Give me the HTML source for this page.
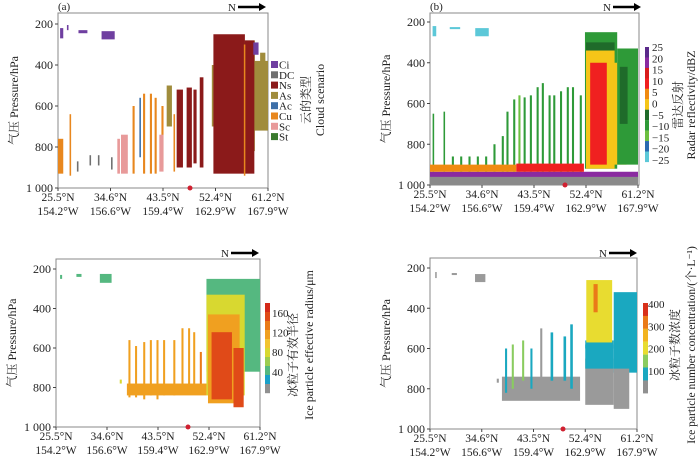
<!DOCTYPE html>
<html><head><meta charset="utf-8"><style>
body{margin:0;background:#fff;width:700px;height:458px;overflow:hidden}
svg{display:block}
text{font-family:"Liberation Serif","Noto Serif CJK SC",serif;fill:#222}
</style></head><body>
<svg id="fig" width="700" height="458"></svg>
<script>
// Tick labels
const latLabels=["25.5°N","34.6°N","43.5°N","52.4°N","61.2°N"];
const lonLabels=["154.2°W","156.6°W","159.4°W","162.9°W","167.9°W"];
const pTicks=[200,400,600,800,1000];
const pTickLabels=["200","400","600","800","1 000"];
// Panel a: cloud scenario columns [position(tick units), width, pTop, pBottom, class]
const colsA=[
[0.04,0.06,220,270,"Ci"],[0.17,0.03,205,230,"Ci"],[0.39,0.17,230,245,"Ci"],[0.83,0.25,235,275,"Ci"],
[0,0.1,760,930,"Cu"],[0.22,0.03,640,940,"Cu"],
[0.36,0.03,870,920,"DC"],[0.6,0.03,840,890,"DC"],[0.76,0.03,840,890,"DC"],[1.01,0.03,850,910,"DC"],
[1.13,0.05,760,930,"Sc"],[1.2,0.13,740,930,"Sc"],[1.55,0.03,560,850,"Ac"],
[1.42,0.04,600,930,"Cu"],[1.62,0.04,540,930,"Cu"],[1.75,0.04,540,930,"Cu"],[1.84,0.04,560,930,"Cu"],[1.97,0.04,600,900,"Cu"],[2.2,0.03,640,920,"Cu"],
[1.93,0.08,740,920,"Sc"],[2.07,0.1,500,700,"As"],
[2.26,0.12,520,900,"Ns"],[2.45,0.1,510,900,"Ns"],[2.58,0.06,520,880,"Ns"],[2.7,0.07,460,900,"Ns"],
[2.93,0.06,400,700,"As"],[3.5,0.25,280,820,"As"],[3.72,0.28,380,720,"As"],[3.85,0.1,340,560,"As"],
[2.96,0.6,250,930,"Ns"],[3.56,0.18,280,930,"Ns"],[3.54,0.02,300,940,"Cu"],[3.72,0.1,290,350,"Ci"]];
const classes=["Ci","DC","Ns","As","Ac","Cu","Sc","St"];
const classColors={Ci:"#6f3fa0",DC:"#707070",Ns:"#8b1a1a",As:"#a08c3c",Ac:"#3d6fa8",Cu:"#e8871e",Sc:"#e89a9a",St:"#3a7a2e"};
// Panel b reflectivity layers [pos,width,pTop,pBottom,dBZ]
const colsB=[
[0,4,955,1000,-99],[0,4,935,960,22],
[0.05,0.07,220,270,-25],[0.38,0.2,225,235,-25],[0.87,0.26,230,270,-23],
[0.05,0.03,650,935,-10],[0.26,0.03,640,935,-10],
[0.42,0.04,860,935,-10],[0.58,0.04,860,935,-10],[0.74,0.04,860,935,-10],[0.9,0.04,860,935,-10],[1.06,0.04,860,935,-10],
[1.22,0.04,800,935,-10],[1.38,0.04,760,935,-10],[1.47,0.04,640,935,-10],[1.6,0.04,580,935,-10],[1.7,0.04,560,935,-12],[1.8,0.04,570,935,-10],[1.92,0.04,560,935,-10],[2.05,0.04,520,935,-10],[2.15,0.04,500,935,-10],[2.28,0.04,560,935,-10],[2.37,0.04,560,935,-10],[2.5,0.04,540,935,-10],[2.63,0.04,520,935,-10],[2.73,0.04,520,935,-10],[2.88,0.04,560,935,-10],
[0,1.66,900,935,5],[1.66,1.3,895,935,12],
[2.98,0.62,250,920,-8],[3.0,0.55,300,360,-3],[3.0,0.55,340,920,2],[3.08,0.32,400,900,12],[3.53,0.25,400,900,2],
[3.6,0.4,330,900,-10],[3.65,0.15,420,700,-5]];
// Panel c effective radius [pos,width,pTop,pBottom,µm]
const colsC=[
[0.08,0.04,230,250,50],[0.4,0.1,225,240,50],[0.86,0.23,225,270,50],[1.25,0.04,760,780,80],
[1.42,0.04,560,850,115],[1.55,0.04,590,850,120],[1.71,0.04,570,860,115],[1.84,0.04,560,840,120],[1.97,0.04,560,860,115],[2.1,0.04,560,840,125],[2.3,0.04,560,840,120],[2.46,0.04,500,800,110],[2.59,0.04,500,800,120],[2.69,0.04,520,820,125],[2.82,0.04,620,800,130],
[1.39,1.56,780,840,115],
[2.95,1.05,250,720,50],[2.95,0.75,330,840,90],[2.98,0.62,430,880,125],[3.05,0.4,520,860,155],[3.48,0.2,600,900,145]];
// Panel d number concentration [pos,width,pTop,pBottom,L^-1]
const colsD=[
[0.1,0.03,220,250,-1],[0.42,0.1,225,235,-1],[0.87,0.2,230,270,-1],[1.29,0.04,750,770,-1],
[1.39,1.51,740,860,-1],
[1.45,0.04,600,820,50],[1.58,0.04,580,800,150],[1.78,0.04,560,760,170],[1.94,0.04,600,800,50],[2.13,0.04,500,800,-1],[2.33,0.05,520,760,50],[2.58,0.05,540,760,50],[2.71,0.05,480,800,50],
[3.0,0.55,650,880,-1],[3.0,0.55,580,700,50],[3.0,0.55,560,600,110],[3.02,0.5,260,570,190],[3.1,0.25,300,450,230],[3.16,0.08,280,420,320],
[3.55,0.45,320,720,50],[3.57,0.1,330,600,110],[3.55,0.3,700,900,-1]];
// Colorbars
const dbzBins=[25,20,15,10,5,0,-5,-10,-15,-20,-25];
const dbzColors=["#5a2a8a","#8a2aa0","#d81c1c","#f02020","#f08a10","#f5c518","#1f6b2a","#2e9a38","#6cc040","#2a6ab0","#5cc8d8"];
const dbzLabels=["25","20","15","10","5","0","−5","−10","−15","−20","−25"];
const reColors=["#d42a1a","#e04a18","#ea7a18","#f0a020","#f2c430","#d8d830","#9ccc50","#55b880","#1aa0c8","#909090"];
const reLabels=["160","120","80","40"];
const ncColors=["#d8301a","#ea7a18","#f2b420","#e8dc30","#8acc60","#1aa8c0","#909090"];
const ncLabels=["400","300","200","100"];

const NS="http://www.w3.org/2000/svg";
const svg=document.getElementById("fig");
function el(tag,attrs,parent,txt){const e=document.createElementNS(NS,tag);for(const k in attrs)e.setAttribute(k,attrs[k]);if(txt!==undefined)e.textContent=txt;(parent||svg).appendChild(e);return e;}
function dbzColor(v){if(v===-99)return "#8a8a8a";for(let i=0;i<dbzBins.length;i++){if(v>=dbzBins[i])return dbzColors[i];}return dbzColors[10];}
function reColor(v){const i=Math.max(0,Math.min(9,Math.floor((180-v)/18)));return reColors[i];}
function ncColor(v){if(v<0)return "#9a9a9a";const i=Math.max(0,Math.min(5,Math.floor((420-v)/60)));return ncColors[i];}

const panels=[
{id:"a",x0:58,ix:52.5,y200:24,py:164/800,top:13,right:268,cols:colsA,col:c=>classColors[c],arrowX:232,arrowY:7,dotX:190},
{id:"b",x0:430,ix:52,y200:22,py:163/800,top:13,right:639,cols:colsB,col:dbzColor,arrowX:607,arrowY:7,dotX:565},
{id:"c",x0:56,ix:51,y200:269,py:158/800,top:259,right:260,cols:colsC,col:reColor,arrowX:225,arrowY:253,dotX:188},
{id:"d",x0:430,ix:51.75,y200:268,py:161/800,top:258,right:637,cols:colsD,col:ncColor,arrowX:603,arrowY:253,dotX:563}];

panels.forEach(P=>{
  const X=i=>P.x0+i*P.ix, Y=p=>P.y200+(p-200)*P.py;
  const g=el("g",{},svg);
  
  
  const bottom=Y(1000);
  const fr=el("rect",{x:P.x0,y:P.top,width:P.right-P.x0,height:bottom-P.top,fill:"#fff",stroke:"#888","stroke-width":1},g);
  
  
  P.cols.forEach((c,k)=>{
    const r=el("rect",{x:X(c[0]),y:Y(c[2]),width:Math.max(1.5,c[1]*P.ix),height:Y(c[3])-Y(c[2]),fill:P.col(c[4])},g);
    
    
  });
  pTicks.forEach((p,k)=>{
    el("line",{x1:P.x0-3,x2:P.x0,y1:Y(p),y2:Y(p),stroke:"#444"},g);
    const t=el("text",{x:P.x0-5,y:Y(p)+4,"text-anchor":"end","font-size":12},g,pTickLabels[k]);
    
    
  });
  latLabels.forEach((l,k)=>{
    el("line",{x1:X(k),x2:X(k),y1:bottom,y2:bottom+3,stroke:"#444"},g);
    const t=el("text",{x:X(k),y:bottom+13,"text-anchor":"middle","font-size":11.5},g,l);
    
    
    const t2=el("text",{x:X(k),y:bottom+27,"text-anchor":"middle","font-size":11.5},g,lonLabels[k]);
    
    
  });
  const dot=el("circle",{cx:P.dotX,cy:bottom,r:2.5,fill:"#d02030"},g);
  
  
  const nt=el("text",{x:P.arrowX,y:P.arrowY+4,"font-size":11,"text-anchor":"middle"},g,"N");
  
  
  el("line",{x1:P.arrowX+6,x2:P.arrowX+28,y1:P.arrowY,y2:P.arrowY,stroke:"#000","stroke-width":2.5},g);
  el("polygon",{points:`${P.arrowX+27},${P.arrowY-4} ${P.arrowX+34},${P.arrowY} ${P.arrowX+27},${P.arrowY+4}`,fill:"#000"},g);
  const yt=el("text",{transform:`translate(${P.x0-40},${(P.top+bottom)/2}) rotate(-90)`,"text-anchor":"middle","font-size":12,"font-family":"Liberation Sans, Noto Sans CJK SC, sans-serif"},g,"气压 Pressure/hPa");
  
  
});
function label(x,y,txt,name,size,anchor){const t=el("text",{x:x,y:y,"font-size":size||12,"text-anchor":anchor||"start"},svg,txt);return t;}
label(58,10,"(a)","panel-label-a",11);
label(430,10,"(b)","panel-label-b",11);
classes.forEach((c,k)=>{
  const y=61+k*10.3;
  const r=el("rect",{x:271,y:y,width:7,height:7,fill:classColors[c]});
  
  
  label(279,y+7.5,c,'legend-entry-'+c.toLowerCase(),11);
});
function vtitle(x,y,txt,name,size){const t=el("text",{transform:`translate(${x},${y}) rotate(-90)`,"text-anchor":"middle","font-size":size||12,"font-family":"Liberation Sans, Noto Sans CJK SC, sans-serif"},svg,txt);}
vtitle(310,100,"云的类型","legend-title-cn",12);
vtitle(324,100,"Cloud scenario","legend-title-en",12);
dbzColors.forEach((c,k)=>{const r=el("rect",{x:645,y:47+k*10.45,width:4,height:10.6,fill:c});});
dbzLabels.forEach((l,k)=>label(652,51+k*11.3,l,'colorbar-tick-label',11));
vtitle(682,105,"雷达反射","colorbar-title-cn",12);
vtitle(695,105,"Radar reflectivity/dBZ","colorbar-title-en",12);
reColors.forEach((c,k)=>{const r=el("rect",{x:265,y:303+k*9,width:5,height:9.2,fill:c});});
reLabels.forEach((l,k)=>label(272,317+k*19.6,l,'colorbar-tick-label',11));
vtitle(297,355,"冰粒子有效半径","colorbar-title-cn",12);
vtitle(313,345,"Ice particle effective radius/μm","colorbar-title-en",12);
ncColors.forEach((c,k)=>{const r=el("rect",{x:643,y:303+k*12.9,width:5,height:13,fill:c});});
ncLabels.forEach((l,k)=>label(648,308+k*22.3,l,'colorbar-tick-label',11));
vtitle(679,345,"冰粒子数浓度","colorbar-title-cn",12);
vtitle(695,345,"Ice particle number concentration/(个·L⁻¹)","colorbar-title-en",11.5);
</script>
</body></html>
